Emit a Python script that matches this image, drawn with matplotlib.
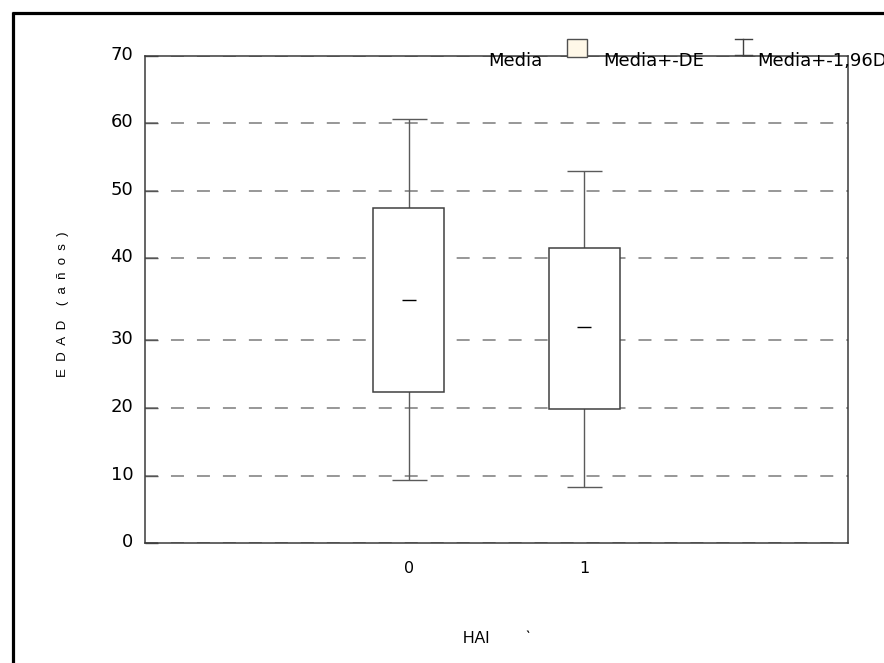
import numpy as np
import matplotlib
matplotlib.use('Agg')
import matplotlib.pyplot as plt
from matplotlib.patches import Rectangle
from matplotlib.lines import Line2D
from matplotlib.transforms import ScaledTranslation

# Groups on the x axis (HAI = 0 / 1)
groups = ['0', '1']
# Mean age per group
means = [35.0, 31.1]
# Mean - SD and Mean + SD (the box)
sd_low = [21.7, 19.2]
sd_high = [48.2, 42.4]
# Mean - 1,96 SD and Mean + 1,96 SD (the whiskers)
ci_low = [9.1, 8.0]
ci_high = [61.0, 53.5]
# y tick positions as they sit on the original axis, with their labels
ytick_pos = [0, 9.7, 19.4, 29.2, 40.9, 50.6, 60.3, 70]
ytick_labels = ['0', '10', '20', '30', '40', '50', '60', '70']

W, H = 884, 663


def px(x, y):
    # pixel position (from top left) to figure fraction
    return x / W, 1 - y / H


fig = plt.figure(figsize=(W / 100, H / 100), dpi=100)
fig.patch.set_facecolor('white')
ax = fig.add_axes([145 / W, 120 / H, 703 / W, 487 / H])

x = np.arange(len(groups))
means = np.array(means)
err = [means - np.array(ci_low), np.array(ci_high) - means]

ax.errorbar(x, means, yerr=err, fmt='none', ecolor='#5a5a5a',
            elinewidth=1.0, capsize=12.6, capthick=1.0, zorder=2)
ax.bar(x, np.array(sd_high) - np.array(sd_low), bottom=sd_low, width=0.4,
       color='white', edgecolor='#404040', linewidth=1.1, zorder=3)
ax.plot(x, means, ls='none', marker='_', markersize=9.5, mew=1.0,
        color='black', zorder=4)

ax.set_xlim(-1.5, 2.5)
ax.set_ylim(0, 70)
ax.set_yticks(ytick_pos, ytick_labels, fontsize=13, family='DejaVu Sans')
ax.set_xticks(x, groups, fontsize=11.5, family='DejaVu Sans')
ax.tick_params(axis='y', direction='in', length=9, width=1,
               color='#555555', pad=8.5)
ax.tick_params(axis='x', length=0, pad=13)
# the labels sit a little above their tick on the original
for lab in ax.get_yticklabels():
    lab.set_transform(lab.get_transform() +
                      ScaledTranslation(0, 0.03, fig.dpi_scale_trans))
ax.yaxis.grid(True, linestyle=(0, (8.5, 8.5)), color='#7a7a7a', linewidth=1.1)
ax.set_axisbelow(True)
for s in ax.spines.values():
    s.set_color('#3a3a3a')
    s.set_linewidth(1.1)

ax.set_xlabel('HAI        \u02cb', fontsize=11.5, family='Liberation Sans')
ax.xaxis.set_label_coords(0.5, -0.18)
ax.set_ylabel('E  D  A  D    (  a  \u00f1  o  s  )', fontsize=9.5,
              family='Liberation Sans')
ax.yaxis.set_label_coords(-0.108, 0.49)

# legend drawn by hand, above the top right corner of the plot
lfont = dict(fontsize=13, family='DejaVu Sans', va='center', ha='left')
fig.text(*px(488, 61), 'Media', **lfont)
fig.add_artist(Rectangle(px(567, 57), 20 / W, 18 / H, transform=fig.transFigure,
                         facecolor='#fff8e8', edgecolor='#505050', lw=1.0))
fig.text(*px(603, 61), 'Media+-DE', **lfont)
for seg in [((743, 39), (743, 55)), ((735, 39), (752, 39)), ((735, 55), (752, 55))]:
    (x0, y0), (x1, y1) = seg
    fig.add_artist(Line2D([px(x0, y0)[0], px(x1, y1)[0]],
                          [px(x0, y0)[1], px(x1, y1)[1]],
                          transform=fig.transFigure, color='#404040', lw=1.0))
# as on the original, this label runs past the right edge of the picture
fig.text(*px(757, 61), 'Media+-1,96DE', **lfont)

# frame on the top and left of the picture
fig.add_artist(Line2D([px(12, 13)[0], 1], [px(12, 13)[1]] * 2,
                      transform=fig.transFigure, color='black', lw=2.3,
                      solid_capstyle='butt'))
fig.add_artist(Line2D([px(13, 12)[0]] * 2, [px(13, 12)[1], 0],
                      transform=fig.transFigure, color='black', lw=2.3,
                      solid_capstyle='butt'))

fig.savefig('out.png', dpi=100)
